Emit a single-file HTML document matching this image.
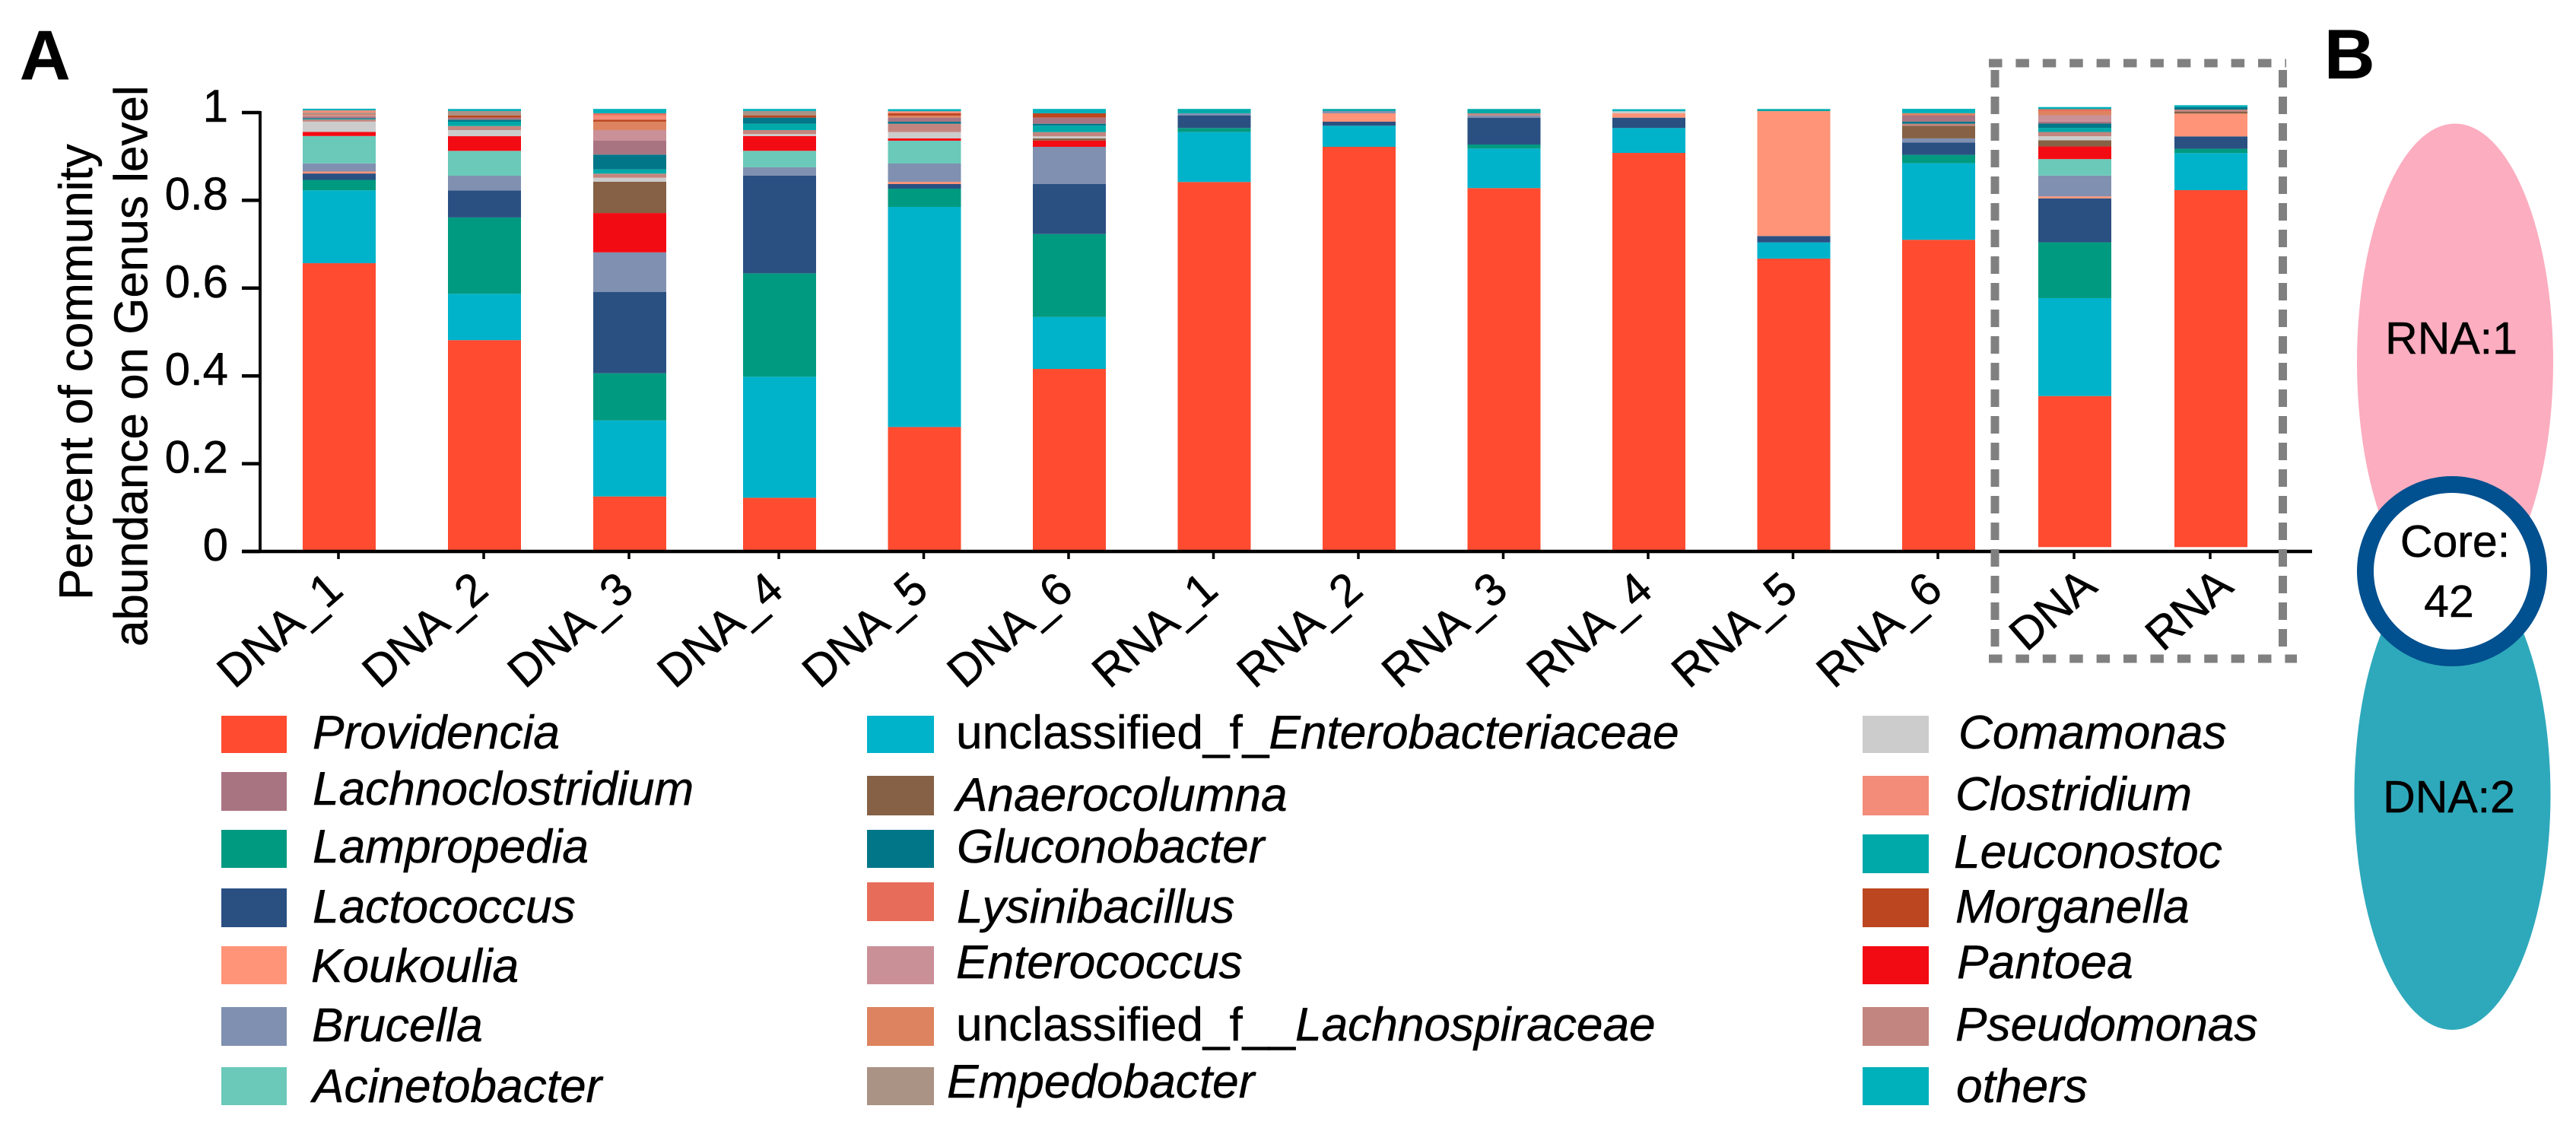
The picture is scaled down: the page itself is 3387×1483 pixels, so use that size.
<!DOCTYPE html>
<html lang="en">
<head>
<meta charset="utf-8">
<title>Community abundance on genus level</title>
<style>
html,body{margin:0;padding:0;background:#fff;width:3387px;height:1483px;overflow:hidden}
svg{display:block;font-family:"Liberation Sans",Arial,sans-serif}
text{stroke:#000;stroke-width:0.5px}
.leg{font-size:62.2px;font-style:italic;fill:#000}
.up{font-style:normal}
.venn{font-size:59px;fill:#000;text-anchor:middle}
.panel{font-size:92px;font-weight:bold;fill:#000}
.axt{font-size:62px;fill:#000}
</style>
</head>
<body>
<svg id="figure" xmlns="http://www.w3.org/2000/svg" width="3387" height="1483" viewBox="0 0 3387 1483">
<rect x="0" y="0" width="3387" height="1483" fill="#fff"/>
<text class="panel" x="26" y="104">A</text>
<text class="panel" x="3056" y="103">B</text>

<g id="chart"></g>

<text class="axt" transform="translate(121,789) rotate(-90)">Percent of community</text>
<text class="axt" transform="translate(193.5,850) rotate(-90)">abundance on Genus level</text>

<g stroke="#808080" stroke-width="11" fill="none">
<line x1="2615" y1="83" x2="3006" y2="83" stroke-dasharray="17.5 17.9"/>
<line x1="2615" y1="866" x2="3020" y2="866" stroke-dasharray="17.5 17.9"/>
<line x1="2623" y1="92" x2="2623" y2="860" stroke-dasharray="23 12"/>
<line x1="3001.5" y1="92" x2="3001.5" y2="860" stroke-dasharray="23 12"/>
</g>

<g>
<g><rect x="291" y="941" width="86" height="49" fill="#ff4b30"/><text class="leg" x="411" y="984">Providencia</text></g>
<g><rect x="291" y="1015" width="86" height="51" fill="#a97482"/><text class="leg" x="411" y="1058">Lachnoclostridium</text></g>
<g><rect x="291" y="1091" width="86" height="50" fill="#009a80"/><text class="leg" x="411" y="1134">Lampropedia</text></g>
<g><rect x="291" y="1168" width="86" height="51" fill="#2a5082"/><text class="leg" x="411" y="1213">Lactococcus</text></g>
<g><rect x="291" y="1244" width="86" height="50" fill="#ff9478"/><text class="leg" x="409" y="1291">Koukoulia</text></g>
<g><rect x="291" y="1324" width="86" height="51" fill="#8090b0"/><text class="leg" x="410" y="1369">Brucella</text></g>
<g><rect x="291" y="1403" width="86" height="50" fill="#6bc9b9"/><text class="leg" x="411" y="1449">Acinetobacter</text></g>

<g><rect x="1140" y="941" width="88" height="49" fill="#00b3cb"/><text class="leg" x="1257" y="984"><tspan class="up">unclassified_f_</tspan>Enterobacteriaceae</text></g>
<g><rect x="1140" y="1020" width="88" height="52" fill="#866145"/><text class="leg" x="1257" y="1066">Anaerocolumna</text></g>
<g><rect x="1140" y="1091" width="88" height="50" fill="#007688"/><text class="leg" x="1258" y="1134">Gluconobacter</text></g>
<g><rect x="1140" y="1160" width="88" height="51" fill="#e76d5a"/><text class="leg" x="1258" y="1213">Lysinibacillus</text></g>
<g><rect x="1140" y="1244" width="88" height="50" fill="#ca9097"/><text class="leg" x="1257" y="1286">Enterococcus</text></g>
<g><rect x="1140" y="1324" width="88" height="51" fill="#dd835f"/><text class="leg" x="1257" y="1368"><tspan class="up">unclassified_f__</tspan>Lachnospiraceae</text></g>
<g><rect x="1140" y="1403" width="88" height="50" fill="#aa9284"/><text class="leg" x="1245" y="1443">Empedobacter</text></g>

<g><rect x="2449" y="941" width="87" height="49" fill="#cccccc"/><text class="leg" x="2575" y="984">Comamonas</text></g>
<g><rect x="2449" y="1020" width="87" height="52" fill="#f38c79"/><text class="leg" x="2571" y="1065">Clostridium</text></g>
<g><rect x="2449" y="1097" width="87" height="51" fill="#00a9a9"/><text class="leg" x="2569" y="1141">Leuconostoc</text></g>
<g><rect x="2449" y="1168" width="87" height="51" fill="#bc4620"/><text class="leg" x="2571" y="1213">Morganella</text></g>
<g><rect x="2449" y="1244" width="87" height="50" fill="#f30b14"/><text class="leg" x="2573" y="1286">Pantoea</text></g>
<g><rect x="2449" y="1324" width="87" height="51" fill="#c3857f"/><text class="leg" x="2571" y="1368">Pseudomonas</text></g>
<g><rect x="2449" y="1403" width="87" height="50" fill="#00b0ba"/><text class="leg" x="2572" y="1449">others</text></g>
</g>

<g>
<ellipse cx="3228" cy="476" rx="129" ry="313.5" fill="#fcadc0"/>
<ellipse cx="3224.5" cy="1045" rx="129" ry="309" fill="#2ea9bb"/>
<circle cx="3224" cy="751" r="114" fill="#fff" stroke="#01508f" stroke-width="22"/>
<text class="venn" x="3223" y="465">RNA:1</text>
<text class="venn" x="3228" y="732">Core:</text>
<text class="venn" x="3220" y="811">42</text>
<text class="venn" x="3220" y="1068">DNA:2</text>
</g>
</svg>

<script>
// ---- chart data (bottom of stack first) ----
const categories = ["DNA_1","DNA_2","DNA_3","DNA_4","DNA_5","DNA_6","RNA_1","RNA_2","RNA_3","RNA_4","RNA_5","RNA_6","DNA","RNA"];
const yTickValues = [0, 0.2, 0.4, 0.6, 0.8, 1];
const yTickLabels = ["0", "0.2", "0.4", "0.6", "0.8", "1"];
const stackBase = [0,0,0,0,0,0,0,0,0,0,0,0,0.0099,0.0099];

const providencia = [.6568,.4815,.1253,.1224,.2835,.4159,.8418,.9220,.8279,.9081,.6672,.7101,.3442,.8133];
const enterobacteriaceae = [.1659,.1055,.1731,.2756,.5016,.1182,.1137,.0480,.0901,.0567,.0369,.1744,.2231,.0844];
const lampropedia = [.0239,.1740,.1075,.2357,.0416,.1891,.0094,0,.0092,0,0,.0191,.1272,.0099];
const lactococcus = [.0146,.0617,.1851,.2225,.0104,.1139,.0288,.0092,.0612,.0236,.0146,.0284,.1000,.0282];
const koukoulia = [.0045,0,0,0,.0052,0,0,.0191,0,.0099,.2847,0,.0047,.0520];
const brucella = [.0185,.0334,.0905,.0191,.0416,.0849,.0047,.0052,.0052,0,0,.0092,.0473,0];
const acinetobacter = [.0624,.0567,0,.0376,.0520,0,0,0,0,0,0,0,.0376,0];
const pantoea = [.0092,.0334,.0896,.0334,.0052,.0144,0,0,0,0,0,0,.0288,0];
const anaerocolumna = [0,0,.0712,0,0,.0047,0,0,0,0,0,.0289,.0139,.0047];
const comamonas = [.0237,.0139,.0092,.0047,.0144,.0047,0,0,0,.0047,0,0,.0094,0];
const pseudomonas = [.0047,.0092,.0094,.0092,.0191,.0097,0,0,.0047,0,0,.0045,.0097,.0045];
const leuconostoc = [.0012,.0099,.0097,.0144,0,.0146,.0099,.0047,.0099,0,.0047,0,.0094,0];
const gluconobacter = [.0017,.0047,.0336,.0139,.0047,.0045,0,0,0,0,0,.0047,.0097,.0052];
const lachnoclostridium = [.0040,.0045,.0317,0,.0092,.0139,0,0,0,0,0,.0146,.0047,0];
const enterococcus = [.0026,0,.0243,0,0,0,0,0,0,0,0,0,.0144,0];
const lachnospiraceae = [.0017,0,.0191,0,.0047,0,0,0,0,0,0,.0047,.0087,0];
const morganella = [.0009,.0052,.0047,.0052,.0052,.0099,0,0,0,0,0,0,0,0];
const empedobacter = [.0035,.0099,0,.0099,0,0,0,0,0,0,0,0,0,0];
const clostridium = [.0043,0,.0097,0,.0047,0,0,0,0,0,0,0,0,0];
const lysinibacillus = [.0009,0,.0047,0,0,0,0,0,0,0,0,0,.0052,0];
const others = [.0038,.0047,.0099,.0047,.0047,.0099,0,0,0,.0047,0,.0099,.0047,.0047];

const seriesStack = [providencia,enterobacteriaceae,lampropedia,lactococcus,koukoulia,brucella,acinetobacter,pantoea,anaerocolumna,comamonas,pseudomonas,leuconostoc,gluconobacter,lachnoclostridium,enterococcus,lachnospiraceae,morganella,empedobacter,clostridium,lysinibacillus,others];
const seriesNames = ["providencia","enterobacteriaceae","lampropedia","lactococcus","koukoulia","brucella","acinetobacter","pantoea","anaerocolumna","comamonas","pseudomonas","leuconostoc","gluconobacter","lachnoclostridium","enterococcus","lachnospiraceae","morganella","empedobacter","clostridium","lysinibacillus","others"];
const seriesColors = ["#ff4b30","#00b3cb","#009a80","#2a5082","#ff9478","#8090b0","#6bc9b9","#f30b14","#866145","#cccccc","#c3857f","#00a9a9","#007688","#a97482","#ca9097","#dd835f","#bc4620","#aa9284","#f38c79","#e76d5a","#00b0ba"];

// ---- axis functions ----
const NS = "http://www.w3.org/2000/svg";
function yScale(v) { return 725 - 577 * v; }
function xScale(i) {
  if (i < 3) return 446 + 191 * i;
  if (i < 12) return 1025 + 190.5 * (i - 3);
  return 2728 + 179 * (i - 12);
}
function tickX(i) {
  return xScale(i) - 1;
}
function make(tag, attrs, parent) {
  const el = document.createElementNS(NS, tag);
  for (const k in attrs) el.setAttribute(k, attrs[k]);
  parent.appendChild(el);
  return el;
}

const chart = document.getElementById("chart");
const BAR_W = 96;

// bars
categories.forEach(function (cat, i) {
  const barGroup = make("g", {}, chart);
  
  
  let acc = stackBase[i];
  seriesStack.forEach(function (vals, s) {
    const next = acc + vals[i];
    const seg = make("rect", {
      x: xScale(i) - BAR_W / 2,
      y: yScale(next),
      width: BAR_W,
      height: yScale(acc) - yScale(next),
      fill: seriesColors[s]
    }, barGroup);
    
    
    acc = next;
  });
});

// y axis
const yLine = make("line", { x1: 342, x2: 342, y1: yScale(1) - 2, y2: yScale(0) + 2, stroke: "#111", "stroke-width": 4 }, chart);


yTickValues.forEach(function (v, k) {
  const t = make("line", { x1: 318, x2: 342, y1: yScale(v), y2: yScale(v), stroke: "#000", "stroke-width": 4.5 }, chart);
  
  
  const lab = make("text", { x: 300, y: yScale(v) + 12, "text-anchor": "end", "font-size": 60, fill: "#000" }, chart);
  
  
  lab.textContent = yTickLabels[k];
});

// x axis
const xLine = make("line", { x1: 318, x2: 3040, y1: yScale(0), y2: yScale(0), stroke: "#000", "stroke-width": 4.5 }, chart);


categories.forEach(function (cat, i) {
  const tx = tickX(i);
  const t = make("line", { x1: tx, x2: tx, y1: yScale(0), y2: yScale(0) + 10, stroke: "#000", "stroke-width": 3.5 }, chart);
  
  
  const ex = tx + (i < 12 ? 9 : 33);
  const ey = i < 12 ? 780 : 775;
  const lab = make("text", { x: 0, y: 0, "text-anchor": "end", "font-size": 60, fill: "#000", transform: "translate(" + ex + "," + ey + ") rotate(-41)" }, chart);
  
  
  lab.textContent = cat;
});
</script>
</body>
</html>
